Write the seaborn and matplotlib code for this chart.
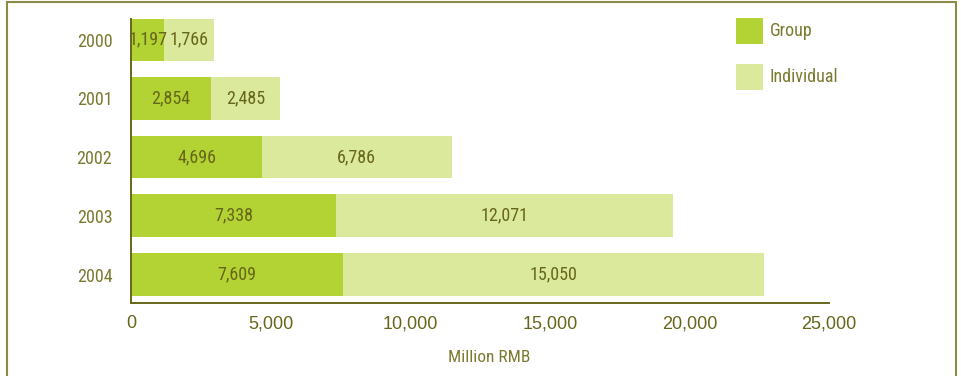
import matplotlib
matplotlib.use("Agg")
import matplotlib.pyplot as plt
import seaborn as sns
import pandas as pd
from matplotlib.lines import Line2D
from matplotlib.patches import Rectangle

years = ["2000", "2001", "2002", "2003", "2004"]
group = [1197, 2854, 4696, 7338, 7609]
individual = [1766, 2485, 6786, 12071, 15050]
x_ticks = [0, 5000, 10000, 15000, 20000, 25000]
series_names = ["Group", "Individual"]

GROUP_C = "#b3d334"
INDIV_C = "#dae99c"
TEXT_C = "#66661a"
LABEL_C = "#7a7a30"
FRAME_C = "#8b8b45"

sns.set_theme(style="white")
plt.rcParams["font.family"] = ["Roboto Condensed", "PT Sans Narrow", "Archivo Narrow",
                               "IBM Plex Sans Condensed", "Liberation Sans", "DejaVu Sans"]

df = pd.DataFrame({"year": years, "group": group, "individual": individual})
df["total"] = df["group"] + df["individual"]

W, H = 962, 376
fig = plt.figure(figsize=(W / 100, H / 100), dpi=100)
ax = fig.add_axes([131 / W, 1 - 303 / H, (829 - 131) / W, (303 - 19) / H])

sns.barplot(data=df, y="year", x="total", color=INDIV_C, width=0.73,
            saturation=1, ax=ax, orient="h", linewidth=0)
sns.barplot(data=df, y="year", x="group", color=GROUP_C, width=0.73,
            saturation=1, ax=ax, orient="h", linewidth=0)

ax.set_xlim(0, 25000)
ax.set_ylim(4.485, -0.35)
ax.set_xticks(x_ticks)
ax.set_xticklabels([f"{v:,}" for v in x_ticks],
                   family=["Liberation Sans", "DejaVu Sans"])
ax.set_xlabel("")
ax.set_ylabel("")

for s in ["top", "right"]:
    ax.spines[s].set_visible(False)
for s in ["left", "bottom"]:
    ax.spines[s].set_color(TEXT_C)
    ax.spines[s].set_linewidth(1.4)

ax.tick_params(axis="x", direction="in", length=6, width=1.2, color=TEXT_C,
               labelcolor=TEXT_C, labelsize=13, pad=9)
ax.tick_params(axis="y", length=0, labelcolor=LABEL_C, labelsize=13, pad=13.5)

fig.text(489 / W, 1 - 357 / H, "Million RMB", ha="center", va="center",
         color=LABEL_C, fontsize=12.5)

for i, (g, ind) in enumerate(zip(group, individual)):
    ax.text(g / 2, i, f"{g:,}", ha="center", va="center", color=TEXT_C, fontsize=13)
    ax.text(g + ind / 2, i, f"{ind:,}", ha="center", va="center", color=TEXT_C, fontsize=13)

# legend drawn as figure-level swatches and labels
legend_rows = [(series_names[0], GROUP_C, 18), (series_names[1], INDIV_C, 64)]
for name, col, top in legend_rows:
    fig.add_artist(Rectangle((736 / W, 1 - (top + 26) / H), 27 / W, 26 / H,
                             transform=fig.transFigure, facecolor=col, edgecolor="none"))
    fig.text(770 / W, 1 - (top + 13) / H, name, ha="left", va="center",
             color=LABEL_C, fontsize=13)

# outer frame
fig.add_artist(Line2D([7 / W, 7 / W], [0, 1 - 2 / H], color=FRAME_C, lw=1.5))
fig.add_artist(Line2D([7 / W, 956 / W], [1 - 2 / H, 1 - 2 / H], color=FRAME_C, lw=1.5))
fig.add_artist(Line2D([956 / W, 956 / W], [0, 1 - 2 / H], color=FRAME_C, lw=1.5))

fig.savefig("out.png", dpi=100)
